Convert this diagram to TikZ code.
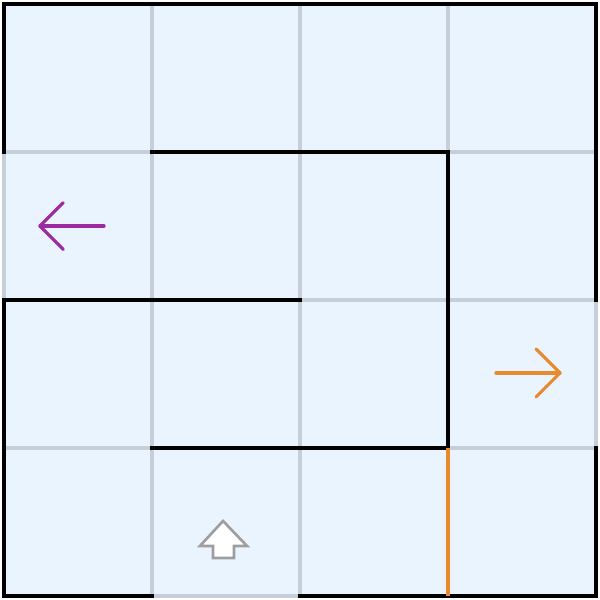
\documentclass[tikz,border=0pt]{standalone}
\usepackage{tikz}
\usetikzlibrary{arrows.meta,calc}
\definecolor{CellFill}{HTML}{EAF4FF}
\definecolor{GridLine}{HTML}{C6CFD9}
\definecolor{Wall}{HTML}{000000}
\definecolor{Goal}{HTML}{9C2AA0}
\definecolor{Exit}{HTML}{E8892E}
\definecolor{Agent}{HTML}{9E9E9E}

\begin{document}
\begin{tikzpicture}[
      x=1.48cm,y=1.48cm,
      gridline/.style={draw=GridLine,line width=0.9pt},
      wall/.style={draw=Wall,line width=0.9pt,line cap=rect,line join=miter},
      exitline/.style={draw=Exit,line width=0.9pt},
      hint/.style={line width=0.9pt,line cap=round,line join=round},
      agent/.style={draw=Agent,fill=white,line width=0.75pt,line join=miter}
    ]
      \useasboundingbox (-0.027,-0.027) rectangle (4.027,4.027);
      % cells and grid
      \fill[CellFill] (0,0) rectangle (4,4);
      \foreach \i in {0,...,4} {
        \draw[gridline] (\i,0) -- (\i,4);
        \draw[gridline] (0,\i) -- (4,\i);
      }
      % walls
      \draw[wall] (0,3) -- (0,4) -- (4,4) -- (4,2);
      \draw[wall] (2,2) -- (0,2) -- (0,0) -- (1,0);
      \draw[wall] (2,0) -- (4,0) -- (4,1);
      \draw[wall] (1,3) -- (3,3) -- (3,1) -- (1,1);
      \draw[exitline] (3,1) -- (3,0);
      % left hint
      \coordinate (goaltip) at (0.243,2.5);
      \draw[hint,Goal] (0.676,2.5) -- (goaltip);
      \draw[hint,Goal] ($(goaltip)+(0.158,0.158)$) -- (goaltip) -- ($(goaltip)+(0.158,-0.158)$);
      % right hint
      \coordinate (exittip) at (3.757,1.507);
      \draw[hint,Exit] (3.324,1.507) -- (exittip);
      \draw[hint,Exit] ($(exittip)+(-0.162,0.162)$) -- (exittip) -- ($(exittip)+(-0.162,-0.162)$);
      % agent
      \draw[agent] (1.480,0.507) -- (1.642,0.338) -- (1.554,0.338) -- (1.554,0.257)
        -- (1.412,0.257) -- (1.412,0.338) -- (1.324,0.338) -- cycle;
    \end{tikzpicture}
\end{document}
